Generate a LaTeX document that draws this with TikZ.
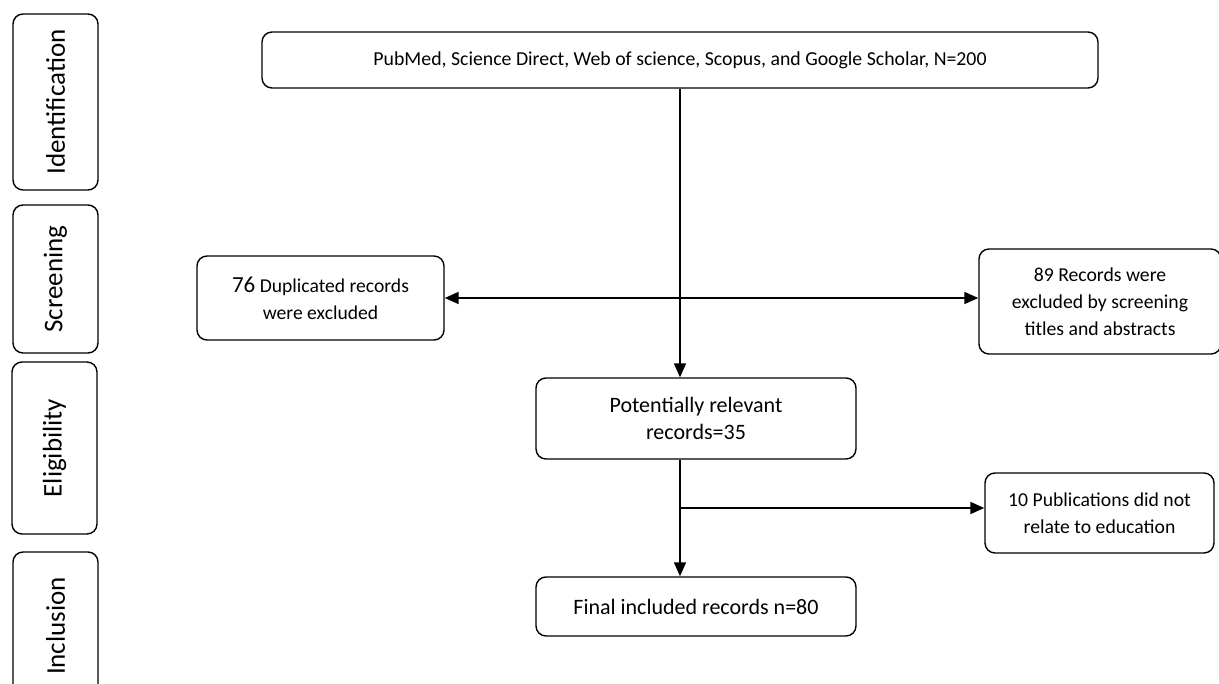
\documentclass[tikz,border=0pt]{standalone}
\usepackage{fontspec}
\setmainfont{Carlito}
\usetikzlibrary{arrows.meta,positioning,calc}

\begin{document}
\begin{tikzpicture}[
    x=1pt, y=-1pt,
    stage/.style={rectangle, rounded corners=10pt, draw=black, line width=1.4pt, rotate=90,
                  minimum height=85pt, font=\fontsize{27}{30}\selectfont},
    box/.style={rectangle, rounded corners=10pt, draw=black, line width=1.4pt,
                align=center, font=\fontsize{19.7}{27}\selectfont},
    flow/.style={-{Triangle[length=14pt, width=12pt]}, line width=1.8pt}
]
\useasboundingbox (0,0) rectangle (1219,684);
% stage labels
\node[stage, minimum width=176pt] (ident) at (55.5,102) {Identification};
\node[stage, minimum width=148pt] (screen) at (55.5,279) {Screening};
\node[stage, minimum width=172pt] (elig) at (54.5,448) {Eligibility};
\node[stage, minimum width=148pt] (incl) at (55.5,626) {Inclusion};
% flow boxes
\node[box, minimum width=836pt, minimum height=56pt, font=\fontsize{19.8}{24}\selectfont] (src) at (680,60)
    {PubMed, Science Direct, Web of science, Scopus, and Google Scholar, N=200};
\node[box, minimum width=247pt, minimum height=84pt, font=\fontsize{19.6}{27}\selectfont] (dup) at (320.5,298)
    {{\fontsize{23}{27}\selectfont 76} Duplicated records\\were excluded};
\node[box, minimum width=242pt, minimum height=105pt] (scr) at (1100,301.5)
    {89 Records were\\excluded by screening\\titles and abstracts};
\node[box, minimum width=320pt, minimum height=81pt, font=\fontsize{22}{27}\selectfont] (rel) at (696,418.5)
    {Potentially relevant\\records=35};
\node[box, minimum width=229pt, minimum height=80pt] (pub) at (1099.5,513)
    {10 Publications did not\\relate to education};
\node[box, minimum width=320pt, minimum height=59pt, font=\fontsize{22}{27}\selectfont] (fin) at (696,606.5)
    {Final included records n=80};
\coordinate (br) at (682,508);
\draw[flow] (src.south) -- (src.south |- rel.north);
\draw[flow, {Triangle[length=14pt, width=12pt]}-{Triangle[length=14pt, width=12pt]}] (dup.east) -- (dup.east -| scr.west);
\draw[flow] (src.south |- rel.south) -- (src.south |- fin.north);
\draw[flow] (br -| src.south) -- (br -| pub.west);
\end{tikzpicture}
\end{document}
